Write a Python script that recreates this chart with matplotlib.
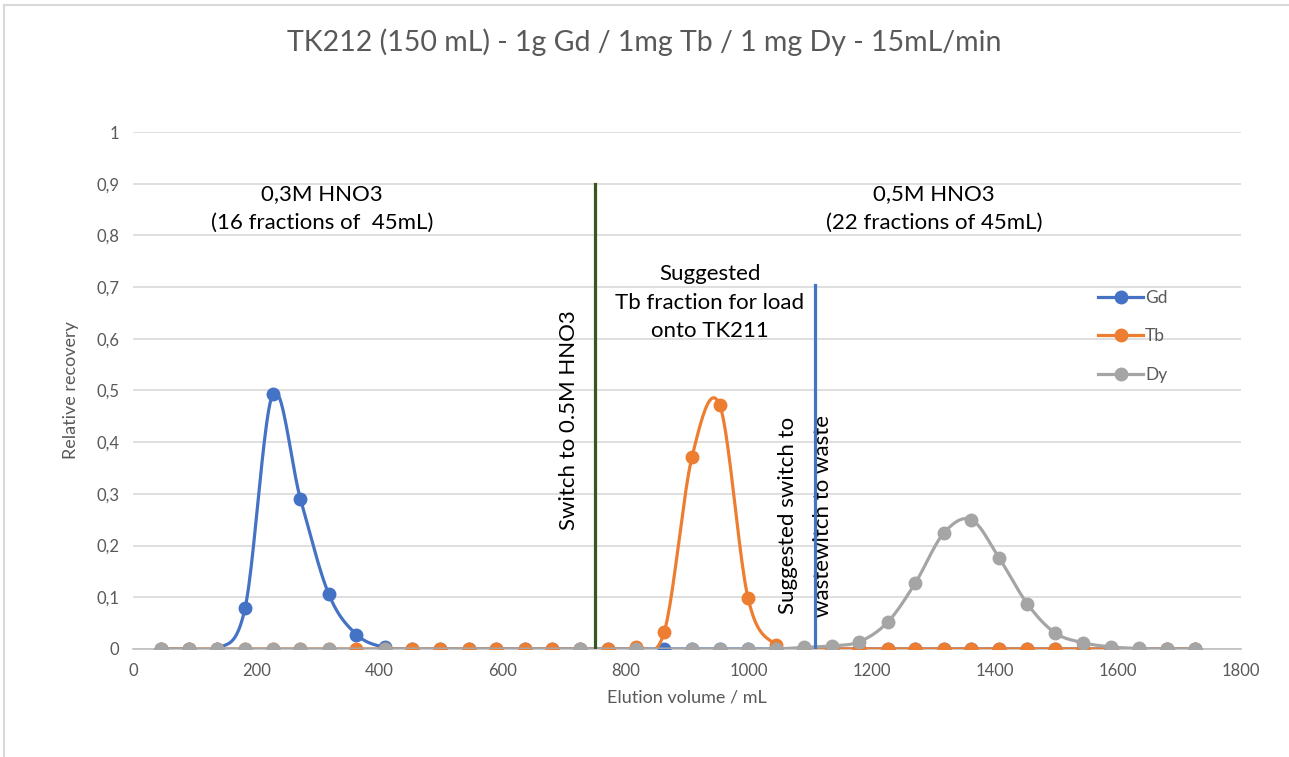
import numpy as np
import matplotlib.pyplot as plt
from matplotlib.lines import Line2D

plt.rcParams['font.family'] = ['Lato', 'DejaVu Sans']

# fraction volumes (mL), 38 fractions
vol = [45, 91, 136, 182, 227, 272, 318, 363, 409, 454, 499, 545, 590, 636, 681,
       726, 772, 817, 863, 908, 953, 999, 1044, 1090, 1135, 1180, 1226, 1271,
       1317, 1362, 1407, 1453, 1498, 1544, 1589, 1634, 1680, 1725]

gd = [0, 0, 0, 0.079, 0.493, 0.29, 0.106, 0.028, 0.003, 0, 0, 0, 0, 0, 0,
      0, 0, 0, 0, 0, 0, 0, 0, 0, 0, 0, 0, 0, 0, 0, 0, 0, 0, 0, 0, 0, 0, 0]
tb = [0, 0, 0, 0, 0, 0, 0, 0, 0, 0, 0, 0, 0, 0, 0,
      0, 0, 0.003, 0.033, 0.371, 0.472, 0.099, 0.008, 0, 0, 0, 0, 0,
      0, 0, 0, 0, 0, 0, 0, 0, 0, 0]
dy = [0, 0, 0, 0, 0, 0, 0, 0, 0, 0, 0, 0, 0, 0, 0,
      0, 0, 0, 0, 0, 0, 0, 0, 0.003, 0.006, 0.014, 0.052, 0.128,
      0.224, 0.25, 0.176, 0.087, 0.031, 0.012, 0.004, 0.001, 0, 0]
# Dy fractions without a visible marker
dy_no_marker = [7, 9, 10, 11, 12, 13, 14, 16, 18]

switch_acid = 750
switch_waste = 1108

GD_C, TB_C, DY_C = '#4472C4', '#ED7D31', '#A5A5A5'
TXT = '#595959'


def smooth(x, y, n=24):
    # Excel-like smoothed line (Catmull-Rom Bezier)
    x = np.asarray(x, float)
    y = np.asarray(y, float)
    P = np.column_stack([x, y])
    out = []
    for i in range(len(P) - 1):
        p0 = P[max(i - 1, 0)]
        p1 = P[i]
        p2 = P[i + 1]
        p3 = P[min(i + 2, len(P) - 1)]
        c1 = p1 + (p2 - p0) / 6
        c2 = p2 - (p3 - p1) / 6
        t = np.linspace(0, 1, n)[:, None]
        seg = ((1 - t) ** 3) * p1 + 3 * ((1 - t) ** 2) * t * c1 + 3 * (1 - t) * t ** 2 * c2 + t ** 3 * p2
        out.append(seg if i == 0 else seg[1:])
    s = np.vstack(out)
    return s[:, 0], s[:, 1]


fig = plt.figure(figsize=(12.89, 7.57), dpi=100)
ax = fig.add_axes([0.1032, 0.1427, 0.8596, 0.6829])

lw, ms = 2.3, 9
series = [('Gd', gd, GD_C), ('Tb', tb, TB_C), ('Dy', dy, DY_C)]
for k, (name, vals, c) in enumerate(series):
    sx, sy = smooth(vol, vals)
    ax.plot(sx, sy, color=c, lw=lw, zorder=3 + k, solid_capstyle='round')
    idx = [i for i in range(len(vol)) if not (name == 'Dy' and i in dy_no_marker)]
    ax.plot(np.array(vol)[idx], np.array(vals)[idx], 'o', color=c, ms=ms,
            mec=c, zorder=3 + k)

ax.plot([switch_acid, switch_acid], [0, 0.9], color='#375623', lw=2.3, zorder=6)
ax.plot([switch_waste, switch_waste], [0, 0.705], color='#4472C4', lw=2.3, zorder=6)

ax.set_xlim(0, 1800)
ax.set_ylim(0, 1)
ax.set_xticks(range(0, 1801, 200))
yt = np.round(np.arange(0, 1.01, 0.1), 1)
ax.set_yticks(yt)
ax.set_yticklabels([('%g' % v).replace('.', ',') for v in yt])
ax.grid(axis='y', color='#D9D9D9', lw=1.2)
ax.set_axisbelow(True)
for s in ['top', 'right', 'left']:
    ax.spines[s].set_visible(False)
ax.spines['bottom'].set_color('#BFBFBF')
ax.spines['bottom'].set_linewidth(1.2)
ax.tick_params(length=0, labelsize=12, colors=TXT, pad=10)
ax.set_xlabel('Elution volume / mL', fontsize=13, color=TXT, labelpad=8)
ax.set_ylabel('Relative recovery', fontsize=13, color=TXT, labelpad=12)

fig.suptitle('TK212 (150 mL) - 1g Gd / 1mg Tb / 1 mg Dy - 15mL/min',
             y=0.962, fontsize=20.5, color=TXT)

tk = dict(fontsize=16, color='black', ha='center', va='top', linespacing=1.55)
ax.text(307, 0.9, '0,3M HNO3\n(16 fractions of  45mL)', **tk)
ax.text(1301, 0.9, '0,5M HNO3\n(22 fractions of 45mL)', **tk)
ax.text(937, 0.745, 'Suggested\nTb fraction for load\nonto TK211', **tk)
ax.text(708, 0.443, 'Switch to 0.5M HNO3', fontsize=16, rotation=90,
        ha='center', va='center')
ax.text(1092, 0.258, 'Suggested switch to\nwastewitch to waste', fontsize=16,
        rotation=90, ha='center', va='center', linespacing=1.95)

handles = [Line2D([], [], color=c, lw=lw, marker='o', ms=ms) for _, _, c in series]
ax.legend(handles, [n for n, _, _ in series], loc='upper left',
          bbox_to_anchor=(0.857, 0.725), frameon=False, fontsize=12.5,
          labelcolor=TXT, handlelength=2.6, handletextpad=0.1, labelspacing=1.3)

# chart area border
fig.add_artist(Line2D([0.003, 1], [0.994, 0.994], color='#D9D9D9', lw=1.5,
                      transform=fig.transFigure))
fig.add_artist(Line2D([0.003, 0.003], [0.994, 0.0], color='#D9D9D9', lw=1.5,
                      transform=fig.transFigure))

fig.savefig('out.png', dpi=100)
